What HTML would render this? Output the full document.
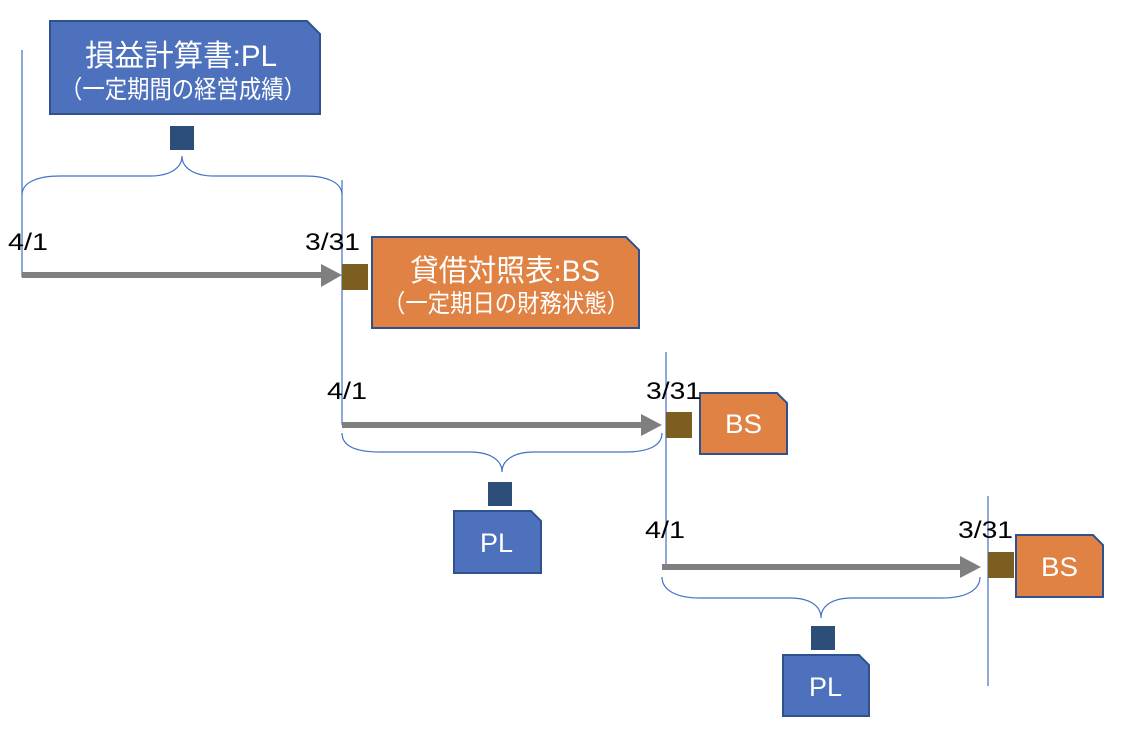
<!DOCTYPE html>
<html><head><meta charset="utf-8"><style>
html,body{margin:0;padding:0;background:#fff;}
svg{display:block;}
text{font-family:"Liberation Sans","Noto Sans CJK JP",sans-serif;}
</style></head><body>
<svg width="1132" height="736" viewBox="0 0 1132 736" xmlns="http://www.w3.org/2000/svg">
<g stroke="#4472C4" stroke-width="1.2" fill="none">
  <line x1="22" y1="50" x2="22" y2="277"/>
  <line x1="342" y1="180" x2="342" y2="425"/>
  <line x1="666" y1="352" x2="666" y2="567"/>
  <line x1="988" y1="496" x2="988" y2="686"/>
  <path d="M22,195 C22,182 38,176 60,176 L150,176 C170,176 182,168 182,156 C182,168 194,176 214,176 L305,176 C326,176 342,182 342,195"/>
  <path d="M342,433 C342,446 356,452 380,452 L470,452 C490,452 502,460 502,472 C502,460 514,452 534,452 L625,452 C648,452 662,446 662,433"/>
  <path d="M662,577 C662,590 676,598 700,598 L790,598 C810,598 821,606 821,618 C821,606 832,598 852,598 L942,598 C966,598 980,590 980,577"/>
</g>
<g fill="#7F7F7F">
  <rect x="22" y="272" width="301" height="6"/><polygon points="321,264 342,275 321,287"/>
  <rect x="342" y="422" width="301" height="6"/><polygon points="641,414 662,425 641,436"/>
  <rect x="662" y="564" width="299" height="6"/><polygon points="960,556 981,567 960,578"/>
</g>
<g fill="#7B5E20">
  <rect x="342" y="264" width="26" height="26"/>
  <rect x="666" y="412" width="26" height="26"/>
  <rect x="988" y="552" width="26" height="26"/>
</g>
<g fill="#2C4E78">
  <rect x="170" y="126" width="24" height="24"/>
  <rect x="488" y="482" width="24" height="24"/>
  <rect x="811" y="626" width="24" height="24"/>
</g>
<g stroke="#2F528F" stroke-width="2">
  <polygon fill="#4E71BE" points="50,21 307,21 320,34 320,114 50,114"/>
  <polygon fill="#DF8244" points="372,237 626,237 639,250 639,328 372,328"/>
  <polygon fill="#DF8244" points="700,393 777,393 787,403 787,454 700,454"/>
  <polygon fill="#4E71BE" points="454,511 531,511 541,521 541,573 454,573"/>
  <polygon fill="#DF8244" points="1016,535 1093,535 1103,545 1103,597 1016,597"/>
  <polygon fill="#4E71BE" points="783,655 859,655 869,665 869,716 783,716"/>
</g>
<g fill="#fff">
  <text x="85" y="66" font-size="30" textLength="192" lengthAdjust="spacingAndGlyphs">損益計算書:PL</text>
  <text x="60" y="98" font-size="25" textLength="246" lengthAdjust="spacingAndGlyphs">（一定期間の経営成績）</text>
  <text x="410" y="281" font-size="30" textLength="190" lengthAdjust="spacingAndGlyphs">貸借対照表:BS</text>
  <text x="383" y="312" font-size="25" textLength="246" lengthAdjust="spacingAndGlyphs">（一定期日の財務状態）</text>
  <text x="725" y="433" font-size="27" textLength="37" lengthAdjust="spacingAndGlyphs">BS</text>
  <text x="480" y="552" font-size="27" textLength="33" lengthAdjust="spacingAndGlyphs">PL</text>
  <text x="1041" y="576" font-size="27" textLength="37" lengthAdjust="spacingAndGlyphs">BS</text>
  <text x="809" y="696" font-size="27" textLength="33" lengthAdjust="spacingAndGlyphs">PL</text>
</g>
<g fill="#000" font-size="24">
  <text x="8" y="250" textLength="40" lengthAdjust="spacingAndGlyphs">4/1</text>
  <text x="305" y="250" textLength="55" lengthAdjust="spacingAndGlyphs">3/31</text>
  <text x="327" y="399" textLength="40" lengthAdjust="spacingAndGlyphs">4/1</text>
  <text x="646" y="399" textLength="55" lengthAdjust="spacingAndGlyphs">3/31</text>
  <text x="645" y="538" textLength="40" lengthAdjust="spacingAndGlyphs">4/1</text>
  <text x="958" y="538" textLength="55" lengthAdjust="spacingAndGlyphs">3/31</text>
</g>
</svg>
</body></html>
